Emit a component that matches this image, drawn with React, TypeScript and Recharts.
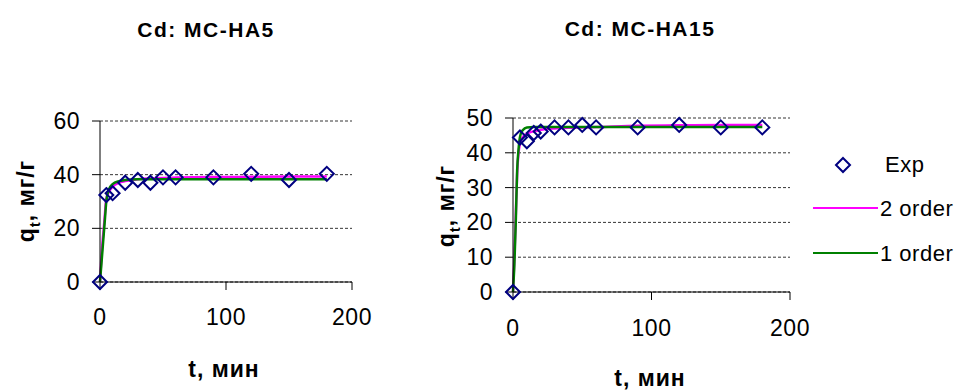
import { ComposedChart, Line, XAxis, YAxis, CartesianGrid } from "recharts";

// Cd: MC-HA5
const t1Exp = [0, 5, 10, 20, 30, 40, 50, 60, 90, 120, 150, 180];
const q1Exp = [0, 32.4, 33.1, 37, 38, 37, 39, 39, 39, 40.3, 38, 40.3];
const t1Fit = [0, 2, 3, 4, 5, 7, 10, 15, 20, 30, 40, 50, 60, 90, 120, 150, 180];
const q1Second = [0, 15, 20, 26, 31, 33.5, 35.5, 37, 37.6, 38.3, 38.6, 38.8, 38.9, 39.1, 39.2, 39.3, 39.3];
const q1First = [0, 12, 18, 24, 30, 34.5, 36.5, 37.6, 38, 38.3, 38.3, 38.3, 38.3, 38.3, 38.3, 38.3, 38.3];

// Cd: MC-HA15
const t2Exp = [0, 5, 10, 15, 20, 30, 40, 50, 60, 90, 120, 150, 180];
const q2Exp = [0, 44.4, 43.3, 45.7, 46.1, 47.3, 47.3, 48, 47.3, 47.3, 48, 47.3, 47.3];
const t2Fit = [0, 1, 2, 3, 4, 5, 7, 10, 15, 20, 30, 40, 50, 60, 90, 120, 150, 180];
const q2Second = [0, 10, 22, 34, 40, 42.5, 44.5, 45.5, 46.2, 46.6, 47, 47.2, 47.3, 47.4, 47.8, 47.9, 48, 48];
const q2First = [0, 8, 20, 35, 41, 44.5, 46.5, 47.3, 47.4, 47.4, 47.4, 47.4, 47.4, 47.4, 47.4, 47.4, 47.4, 47.4];

const xTicks = [0, 100, 200];
const y1Ticks = [0, 20, 40, 60];
const y2Ticks = [0, 10, 20, 30, 40, 50];

const legendNames = ["Exp", "2 order", "1 order"];

const FONT = "'Liberation Sans', Arial, sans-serif";
const NAVY = "#000080";
const MAGENTA = "#FF00FF";
const GREEN = "#008000";

const zip = (ts: number[], qs: number[]) => ts.map((t, i) => ({ t, q: qs[i] }));

const Diamond = (props: any) => {
  const { cx, cy, index } = props;
  if (cx == null || cy == null) return <g key={index} />;
  const r = 7;
  return (
    <path
      key={index}
      d={`M${cx},${cy - r}L${cx + r},${cy}L${cx},${cy + r}L${cx - r},${cy}Z`}
      fill="none"
      stroke={NAVY}
      strokeWidth={2}
    />
  );
};

const makeXTick = (dy: number) => (props: any) => {
  const { x, y, payload } = props;
  return (
    <text x={x} y={y} dy={dy} textAnchor="middle" fontSize={23} fontFamily={FONT} fill="#000" letterSpacing={0.5}>
      {payload.value}
    </text>
  );
};

const YTick = (props: any) => {
  const { x, y, payload } = props;
  return (
    <text x={x} y={y} dy={8} textAnchor="end" fontSize={23} fontFamily={FONT} fill="#000" letterSpacing={0.5}>
      {payload.value}
    </text>
  );
};

interface PanelProps {
  left: number;
  width: number;
  margin: { top: number; right: number; bottom: number; left: number };
  exp: { t: number; q: number }[];
  second: { t: number; q: number }[];
  first: { t: number; q: number }[];
  yMax: number;
  yTicks: number[];
  xDy: number;
}

function Panel({ left, width, margin, exp, second, first, yMax, yTicks, xDy }: PanelProps) {
  return (
    <div style={{ position: "absolute", left, top: 0 }}>
      <ComposedChart width={width} height={390} margin={margin}>
        <CartesianGrid horizontal vertical={false} stroke="#000" strokeWidth={0.8} strokeDasharray="3 2" />
        <XAxis
          type="number"
          dataKey="t"
          domain={[0, 200]}
          ticks={xTicks}
          height={40}
          tickSize={8}
          tickMargin={0}
          stroke="#000"
          tick={makeXTick(xDy)}
        />
        <YAxis
          type="number"
          domain={[0, yMax]}
          ticks={yTicks}
          width={60}
          tickSize={8}
          tickMargin={12}
          stroke="#000"
          tick={YTick}
        />
        <Line data={exp} dataKey="q" stroke="none" dot={Diamond} activeDot={false} isAnimationActive={false} />
        <Line data={second} dataKey="q" type="monotone" stroke={MAGENTA} strokeWidth={2.5} dot={false} activeDot={false} isAnimationActive={false} />
        <Line data={first} dataKey="q" type="monotone" stroke={GREEN} strokeWidth={2.5} dot={false} activeDot={false} isAnimationActive={false} />
      </ComposedChart>
    </div>
  );
}

const bold = { fontFamily: FONT, fontWeight: 700, fill: "#000" } as const;

function YLabel({ x, y }: { x: number; y: number }) {
  return (
    <text transform={`translate(${x},${y}) rotate(-90)`} textAnchor="middle" fontSize={23} letterSpacing={1} {...bold}>
      q
      <tspan fontSize={15} dy={6}>t</tspan>
      <tspan dy={-6}>, мг/г</tspan>
    </text>
  );
}

export default function App() {
  return (
    <div style={{ position: "absolute", left: 0, top: 0, width: 969, height: 390, background: "#fff" }}>
      <Panel
        left={0}
        width={400}
        margin={{ top: 121, right: 48, bottom: 68, left: 40 }}
        exp={zip(t1Exp, q1Exp)}
        second={zip(t1Fit, q1Second)}
        first={zip(t1Fit, q1First)}
        yMax={60}
        yTicks={y1Ticks}
        xDy={35}
      />
      <Panel
        left={400}
        width={569}
        margin={{ top: 118, right: 179, bottom: 58, left: 53 }}
        exp={zip(t2Exp, q2Exp)}
        second={zip(t2Fit, q2Second)}
        first={zip(t2Fit, q2First)}
        yMax={50}
        yTicks={y2Ticks}
        xDy={36}
      />
      <svg width={969} height={390} style={{ position: "absolute", left: 0, top: 0, pointerEvents: "none" }}>
        <text x={206} y={37} textAnchor="middle" fontSize={21} letterSpacing={1.5} {...bold}>Cd: MC-HA5</text>
        <text x={640} y={36} textAnchor="middle" fontSize={21} letterSpacing={1.5} {...bold}>Cd: MC-HA15</text>
        <text x={224} y={377} textAnchor="middle" fontSize={23} letterSpacing={1} {...bold}>t, мин</text>
        <text x={650} y={386} textAnchor="middle" fontSize={23} letterSpacing={1} {...bold}>t, мин</text>
        <YLabel x={34} y={201} />
        <YLabel x={454} y={206} />
        <path d="M843,158L850,165L843,172L836,165Z" fill="none" stroke={NAVY} strokeWidth={2} />
        <text x={885} y={172} fontSize={22} fontFamily={FONT} letterSpacing={0.5}>{legendNames[0]}</text>
        <line x1={813} x2={878} y1={208} y2={208} stroke={MAGENTA} strokeWidth={2} />
        <text x={880} y={216} fontSize={22} fontFamily={FONT} letterSpacing={0.5}>{legendNames[1]}</text>
        <line x1={813} x2={878} y1={253} y2={253} stroke={GREEN} strokeWidth={2} />
        <text x={880} y={261} fontSize={22} fontFamily={FONT} letterSpacing={0.5}>{legendNames[2]}</text>
      </svg>
    </div>
  );
}
